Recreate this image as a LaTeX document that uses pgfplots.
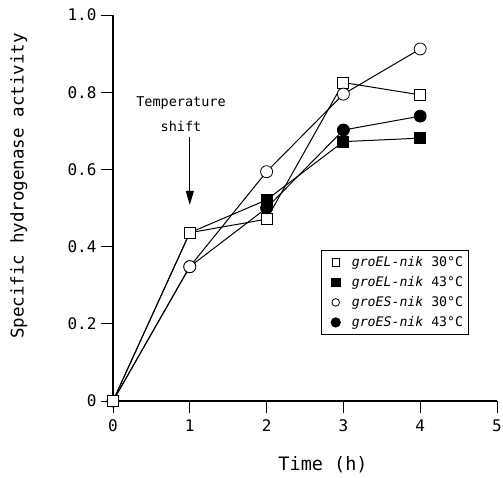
\documentclass[border=0pt]{standalone}
\usepackage{fontspec}
\setmainfont{DejaVu Sans Mono}
\usepackage{pgfplots}
\pgfplotsset{compat=1.18}
\usetikzlibrary{arrows.meta}
\begin{document}
\begin{tikzpicture}
\begin{axis}[
  scale only axis,
  width=384pt, height=386pt,
  xmin=0, xmax=5, ymin=0, ymax=1,
  axis lines=left,
  axis line style={-, line width=1.5pt},
  clip=false,
  xtick={0,1,2,3,4,5},
  xticklabels={0,1,2,3,4,5},
  ytick={0,0.2,0.4,0.6,0.8,1},
  yticklabels={0,0.2,0.4,0.6,0.8,1.0},
  tick align=outside,
  major tick length=12pt,
  tick style={black, line width=0.8pt},
  /pgf/number format/assume math mode=true,
  tick label style={font=\fontsize{16}{18}\selectfont},
  xticklabel style={yshift=-3pt},
  yticklabel style={xshift=-1pt},
  xlabel={Time (h)},
  ylabel={Specific hydrogenase activity},
  xlabel style={font=\fontsize{18.5}{20}\selectfont, at={(axis description cs:0.547,0)}, anchor=center, yshift=-64pt},
  ylabel style={font=\fontsize{17.5}{20}\selectfont, at={(axis description cs:-0.245,0.557)}, anchor=center},
  legend style={at={(axis description cs:0.542,0.391)}, anchor=north west,
    draw=black, line width=1pt, font=\fontsize{13.2}{15}\selectfont,
    row sep=4.5pt, inner xsep=3pt, inner ysep=4pt,
    /tikz/every odd column/.append style={column sep=9pt}},
  legend cell align=left,
  every axis plot/.append style={black, line width=1pt},
]
\coordinate (bl) at (rel axis cs:0,0);
\coordinate (tr) at (rel axis cs:1,1);
% groEL-nik 43
\addplot[mark=square*, mark size=5.5pt, mark options={fill=black, line width=0.8pt}, forget plot]
  coordinates {(0,0) (1,0.436) (2,0.521) (3,0.672) (4,0.681)};
% groES-nik 43
\addplot[mark=*, mark size=6pt, mark options={fill=black, line width=0.8pt}, forget plot]
  coordinates {(0,0) (1,0.348) (2,0.500) (3,0.702) (4,0.738)};
% groEL-nik 30
\addplot[mark=square*, mark size=5.5pt, mark options={fill=white, line width=0.8pt}, forget plot]
  coordinates {(0,0) (1,0.436) (2,0.471) (3,0.825) (4,0.793)};
% groES-nik 30
\addplot[mark=*, mark size=6pt, mark options={fill=white, line width=0.8pt}, forget plot]
  coordinates {(1,0.348) (2,0.594) (3,0.795) (4,0.912)};
\addplot[forget plot] coordinates {(0,0) (1,0.348)};

\addlegendimage{legend image code/.code={\draw[white, line width=0.2pt] (-11pt,0) -- (0pt,0); \draw[fill=white, line width=0.8pt] (-3.8pt,-3.8pt) rectangle (3.8pt,3.8pt);}}
\addlegendentry{\textit{groEL-nik} 30°C}
\addlegendimage{legend image code/.code={\draw[white, line width=0.2pt] (-11pt,0) -- (0pt,0); \fill[black] (-4.3pt,-4.3pt) rectangle (4.3pt,4.3pt);}}
\addlegendentry{\textit{groEL-nik} 43°C}
\addlegendimage{legend image code/.code={\draw[white, line width=0.2pt] (-11pt,0) -- (0pt,0); \draw[fill=white, line width=0.8pt] (0,0) circle (3.8pt);}}
\addlegendentry{\textit{groES-nik} 30°C}
\addlegendimage{legend image code/.code={\draw[white, line width=0.2pt] (-11pt,0) -- (0pt,0); \fill[black] (0,0) circle (4.6pt);}}
\addlegendentry{\textit{groES-nik} 43°C}

\draw[line width=1pt, -{Triangle[length=14pt, width=8pt]}] (axis cs:1,0.684) -- (axis cs:1,0.508);
\node[align=center, font=\fontsize{13.5}{25}\selectfont] at (axis cs:0.885,0.742) {Temperature\\shift};
\end{axis}
\pgfresetboundingbox
\path ([shift={(-113pt,-76pt)}]bl) rectangle ([shift={(6pt,15pt)}]tr);
\end{tikzpicture}
\end{document}
